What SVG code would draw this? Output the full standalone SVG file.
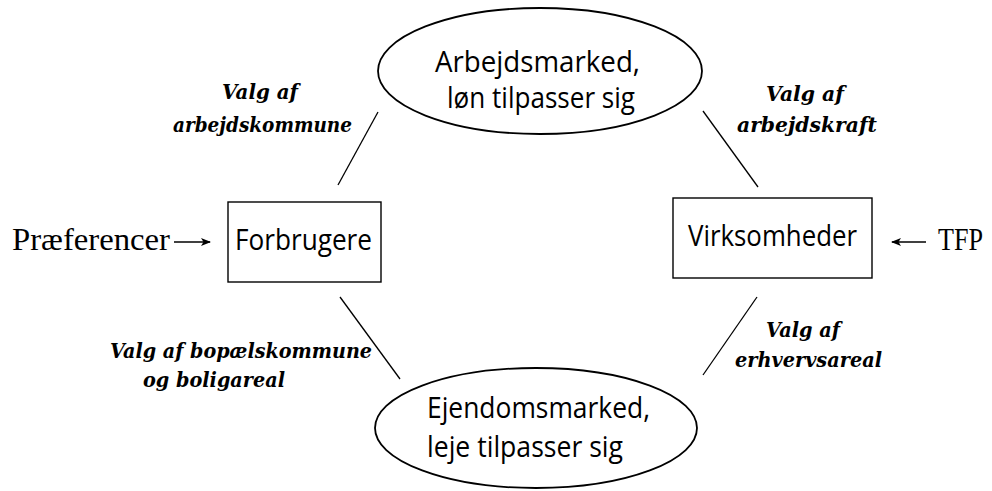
<svg xmlns="http://www.w3.org/2000/svg" width="992" height="491" viewBox="0 0 992 491">
<defs>
<style>
.node{fill:#fff;stroke:#000;stroke-width:1.8}
.box{fill:#fff;stroke:#000;stroke-width:1.4}
.sans{font-family:"Open Sans","Liberation Sans",sans-serif;font-size:29px;fill:#000}
.lab{font-family:"DejaVu Serif","Liberation Serif",serif;font-size:21px;font-weight:bold;font-style:italic;fill:#000}
.ser{font-family:"Liberation Serif","DejaVu Serif",serif;font-size:32px;fill:#000}
.con{stroke:#000;stroke-width:1.3;fill:none}
</style>
<marker id="ah" markerWidth="10" markerHeight="8" refX="9" refY="4" orient="auto" markerUnits="userSpaceOnUse">
<path d="M0,0 L10,4 L0,8 L2.5,4 Z" fill="#000"/>
</marker>
</defs>
<rect width="992" height="491" fill="#fff"/>

<g id="connectors">
<line class="con" x1="378" y1="112" x2="338" y2="185"/>
<line class="con" x1="703" y1="111" x2="758" y2="187"/>
<line class="con" x1="340" y1="297" x2="400" y2="379"/>
<line class="con" x1="757" y1="297" x2="703" y2="375"/>
<line class="con" x1="174" y1="242" x2="210" y2="242" marker-end="url(#ah)"/>
<line class="con" x1="926" y1="242" x2="892" y2="242" marker-end="url(#ah)"/>
</g>

<g id="arbejdsmarked">
<ellipse class="node" cx="540" cy="71" rx="162" ry="63"/>
<text class="sans" x="435" y="72" textLength="205" lengthAdjust="spacingAndGlyphs">Arbejdsmarked,</text>
<text class="sans" x="447" y="108" textLength="188" lengthAdjust="spacingAndGlyphs">løn tilpasser sig</text>
</g>

<g id="ejendomsmarked">
<ellipse class="node" cx="536" cy="428" rx="161" ry="60"/>
<text class="sans" x="427" y="418" textLength="223" lengthAdjust="spacingAndGlyphs">Ejendomsmarked,</text>
<text class="sans" x="427" y="457" textLength="196" lengthAdjust="spacingAndGlyphs">leje tilpasser sig</text>
</g>

<g id="forbrugere">
<rect class="box" x="228" y="202" width="153" height="80"/>
<text class="sans" x="235" y="250" textLength="137" lengthAdjust="spacingAndGlyphs">Forbrugere</text>
</g>

<g id="virksomheder">
<rect class="box" x="673" y="198" width="199" height="80"/>
<text class="sans" x="688" y="246" textLength="169" lengthAdjust="spacingAndGlyphs">Virksomheder</text>
</g>

<g id="praeferencer">
<text class="ser" x="12" y="250" textLength="158" lengthAdjust="spacingAndGlyphs">Præferencer</text>
</g>

<g id="tfp">
<text class="ser" x="938" y="250" textLength="45" lengthAdjust="spacingAndGlyphs">TFP</text>
</g>

<g id="labels">
<text class="lab" x="222" y="99" textLength="76" lengthAdjust="spacingAndGlyphs">Valg af</text>
<text class="lab" x="173" y="132" textLength="179" lengthAdjust="spacingAndGlyphs">arbejdskommune</text>
<text class="lab" x="766" y="101" textLength="78" lengthAdjust="spacingAndGlyphs">Valg af</text>
<text class="lab" x="737" y="132" textLength="140" lengthAdjust="spacingAndGlyphs">arbejdskraft</text>
<text class="lab" x="766" y="337" textLength="74" lengthAdjust="spacingAndGlyphs">Valg af</text>
<text class="lab" x="735" y="367" textLength="147" lengthAdjust="spacingAndGlyphs">erhvervsareal</text>
<text class="lab" x="110" y="358" textLength="262" lengthAdjust="spacingAndGlyphs">Valg af bopælskommune</text>
<text class="lab" x="143" y="387" textLength="142" lengthAdjust="spacingAndGlyphs">og boligareal</text>
</g>
</svg>
